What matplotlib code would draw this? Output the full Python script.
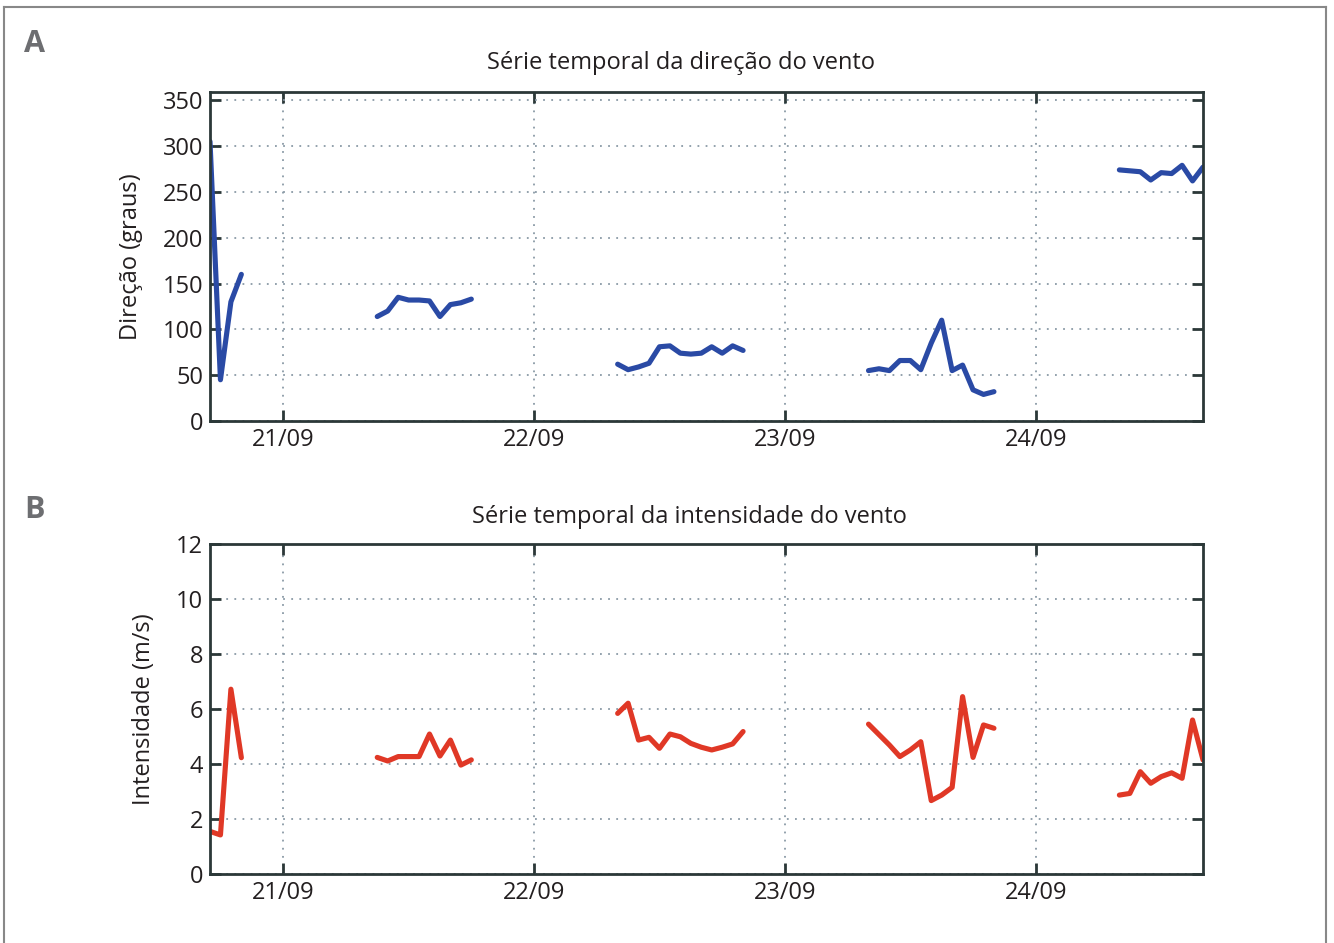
import datetime as dt
import matplotlib
matplotlib.use("Agg")
import matplotlib.pyplot as plt
import matplotlib.dates as mdates
from matplotlib.lines import Line2D

plt.rcParams['font.family'] = ['Open Sans', 'DejaVu Sans']

# hourly samples, one list per day (hours of day, values)
day0 = dt.datetime(2015, 9, 20)

dir_hours = [
    [17, 18, 19, 20],
    [9, 10, 11, 12, 13, 14, 15, 16, 17, 18],
    [8, 9, 10, 11, 12, 13, 14, 15, 16, 17, 18, 19, 20],
    [8, 9, 10, 11, 12, 13, 14, 15, 16, 17, 18, 19, 20],
    [8, 9, 10, 11, 12, 13, 14, 15, 16],
]
dir_values = [
    [305, 45, 130, 160],
    [114, 120, 135, 132, 132, 131, 114, 127, 129, 133],
    [62, 56, 59, 63, 81, 82, 74, 73, 74, 81, 74, 82, 77],
    [55, 57, 55, 66, 66, 56, 85, 110, 55, 61, 34, 29, 32],
    [274, 273, 272, 263, 271, 270, 279, 262, 277],
]

vel_hours = dir_hours
vel_values = [
    [1.55, 1.42, 6.72, 4.23],
    [4.24, 4.11, 4.27, 4.27, 4.27, 5.09, 4.29, 4.87, 3.96, 4.15],
    [5.84, 6.21, 4.87, 4.97, 4.57, 5.09, 4.99, 4.75, 4.61, 4.51, 4.61, 4.73, 5.18],
    [5.45, 5.07, 4.69, 4.27, 4.51, 4.81, 2.67, 2.87, 3.15, 6.45, 4.24, 5.42, 5.3],
    [2.87, 2.93, 3.72, 3.30, 3.54, 3.68, 3.48, 5.6, 4.15],
]

day_ticks = [dt.datetime(2015, 9, d) for d in (21, 22, 23, 24)]
x_start = dt.datetime(2015, 9, 20, 17)
x_end = dt.datetime(2015, 9, 24, 16)

spine_col = '#2b3838'
grid_col = '#8a9aa6'
text_col = '#231f20'
fs = 17

fig = plt.figure(figsize=(13.34, 9.43), dpi=100)

# outer frame (open at the bottom)
fig.add_artist(Line2D([4 / 1334, 4 / 1334], [0, 1 - 7 / 943], transform=fig.transFigure, color='#888888', lw=1.5))
fig.add_artist(Line2D([4 / 1334, 1326 / 1334], [1 - 7 / 943, 1 - 7 / 943], transform=fig.transFigure, color='#888888', lw=1.5))
fig.add_artist(Line2D([1326 / 1334, 1326 / 1334], [0, 1 - 7 / 943], transform=fig.transFigure, color='#888888', lw=1.5))

ax1 = fig.add_axes([210 / 1334, 522 / 943, 993 / 1334, 329 / 943])
ax2 = fig.add_axes([210 / 1334, 69 / 943, 993 / 1334, 330 / 943])


def draw(ax, hours, values, color, ylim, yticks, ylabel, lpad):
    for i, (hh, vv) in enumerate(zip(hours, values)):
        t = [day0 + dt.timedelta(days=i, hours=h) for h in hh]
        ax.plot(t, vv, color=color, lw=3.7, solid_joinstyle='round', solid_capstyle='round')
    ax.set_xlim(x_start, x_end)
    ax.set_ylim(*ylim)
    ax.set_yticks(yticks)
    ax.set_xticks(day_ticks)
    ax.xaxis.set_major_formatter(mdates.DateFormatter('%d/%m'))
    ax.grid(True, linestyle=(0, (1, 3.5)), color=grid_col, lw=1.3)
    ax.tick_params(direction='in', length=8, width=2, color=spine_col, top=True, right=True,
                   labelsize=fs, labelcolor=text_col, pad=5)
    for s in ax.spines.values():
        s.set_color(spine_col)
        s.set_linewidth(2)
    ax.set_ylabel(ylabel, fontsize=fs, color=text_col, labelpad=lpad)


draw(ax1, dir_hours, dir_values, '#2a4aa5', (0, 359), [0, 50, 100, 150, 200, 250, 300, 350],
     'Direção (graus)', 14)
draw(ax2, vel_hours, vel_values, '#e03826', (0, 12), [0, 2, 4, 6, 8, 10, 12],
     'Intensidade (m/s)', 14)

fig.text(681 / 1334, 1 - 63 / 943, 'Série temporal da direção do vento', ha='center', va='center',
         fontsize=fs, color=text_col)
fig.text(689 / 1334, 1 - 517 / 943, 'Série temporal da intensidade do vento', ha='center', va='center',
         fontsize=fs, color=text_col)

fig.text(24 / 1334, 1 - 44 / 943, 'A', ha='left', va='center', fontsize=22, fontweight='bold', color='#6d6e71')
fig.text(24 / 1334, 1 - 510 / 943, 'B', ha='left', va='center', fontsize=22, fontweight='bold', color='#6d6e71')

fig.savefig('out.png', dpi=100)
